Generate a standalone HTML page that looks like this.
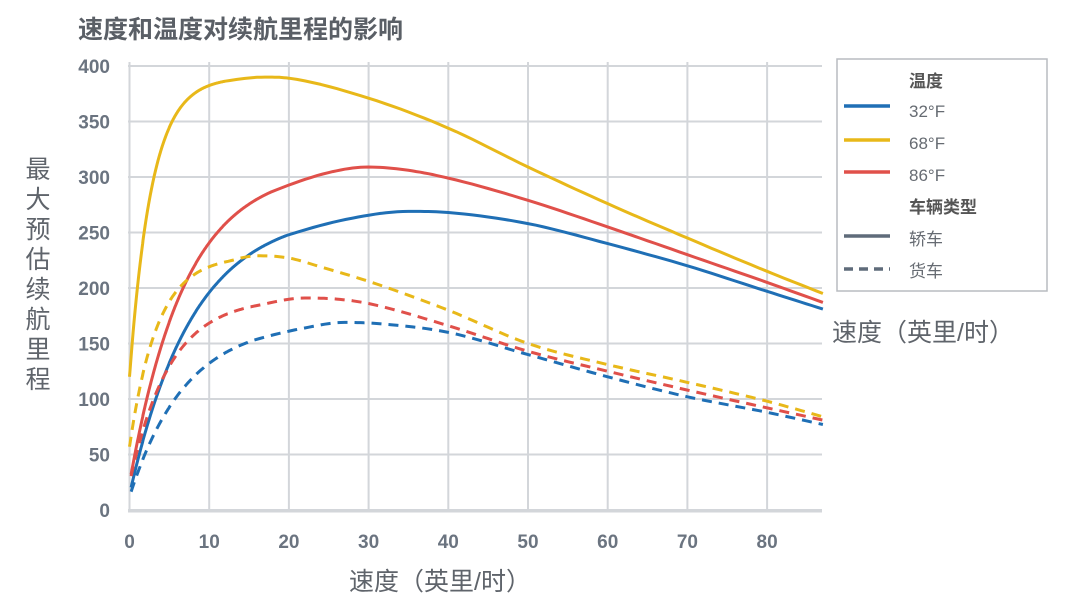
<!DOCTYPE html>
<html><head><meta charset="utf-8"><style>
body{margin:0;background:#fff;width:1080px;height:608px;overflow:hidden;font-family:"Liberation Sans","Noto Sans CJK SC",sans-serif}
</style></head><body>
<svg id="s" width="1080" height="608" xmlns="http://www.w3.org/2000/svg" font-family="Liberation Sans, Noto Sans CJK SC, sans-serif">
<text x="78" y="38" font-size="25" font-weight="bold" fill="#5a5f66">速度和温度对续航里程的影响</text>
<g id="grid" stroke="#d3d6da" stroke-width="2"></g>
<g id="ticks" fill="#6b7480" font-size="19" font-weight="bold"></g>
<g id="curves" fill="none" stroke-width="3"></g>
<g font-size="25" fill="#5f646b" text-anchor="middle">
<text x="38" y="178">最</text><text x="38" y="208">大</text><text x="38" y="238">预</text><text x="38" y="268">估</text><text x="38" y="298">续</text><text x="38" y="328">航</text><text x="38" y="358">里</text><text x="38" y="388">程</text>
</g>
<text x="349" y="590" font-size="25" fill="#5f646b">速度（英里/时）</text>
<text x="832" y="341" font-size="25" fill="#5f646b">速度（英里/时）</text>
<rect x="837" y="59" width="210" height="232" fill="#fff" stroke="#b8bcc0" stroke-width="1.5"/>
<g font-size="17" fill="#666b72">
<text x="909" y="87" font-weight="bold" fill="#555">温度</text>
<text x="909" y="117">32°F</text>
<text x="909" y="149">68°F</text>
<text x="909" y="181">86°F</text>
<text x="909" y="213" font-weight="bold" fill="#555">车辆类型</text>
<text x="909" y="245">轿车</text>
<text x="909" y="277">货车</text>
</g>
<g stroke-width="3.5">
<line x1="844" x2="890" y1="106" y2="106" stroke="#1f6fb5"/>
<line x1="844" x2="890" y1="140" y2="140" stroke="#e8b819"/>
<line x1="844" x2="890" y1="172" y2="172" stroke="#e0504a"/>
<line x1="844" x2="890" y1="236" y2="236" stroke="#5f6b7a"/>
<line x1="844" x2="890" y1="269" y2="269" stroke="#5f6b7a" stroke-dasharray="9 6"/>
</g>
</svg>
<script>
var X=function(v){return 129.5+v*7.97},Y=function(v){return 510-v*1.11};
var NS="http://www.w3.org/2000/svg";
function el(p,t,a,txt){var e=document.createElementNS(NS,t);for(var k in a)e.setAttribute(k,a[k]);if(txt!=null)e.textContent=txt;document.getElementById(p).appendChild(e);}
for(var i=0;i<=80;i+=10){el('grid','line',{x1:X(i),x2:X(i),y1:62,y2:511});el('ticks','text',{x:X(i),y:548,'text-anchor':'middle'},i);}
for(var j=0;j<=400;j+=50){el('grid','line',{x1:128,x2:822,y1:Y(j),y2:Y(j)});el('ticks','text',{x:110,y:Y(j)+7,'text-anchor':'end'},j);}
el('grid','line',{x1:128,x2:822,y1:511,y2:511,'stroke-width':3});
function rise(y0,A,k,x0,X0){var r=[];for(var x=x0;x<=X0+1e-9;x+=0.5)r.push([x,y0+A*(1-Math.exp(-x/k))]);return r;}
var S=[
['#e8b819',0,rise(120,270,2.8,0,12).concat([[17,390],[20,389],[30,371],[40,344],[50,309],[60,276],[70,245],[80,215],[87,195]])],
['#e0504a',0,rise(24,285,7,0.2,18).concat([[25,304],[30,309],[35,306],[40,299],[50,279],[60,255],[70,230],[80,205],[87,187]])],
['#1f6fb5',0,rise(14,255,8,0.2,20).concat([[28,263],[35,269],[40,268],[50,258],[60,240],[70,220],[80,197],[87,181]])],
['#e8b819',1,rise(57,172,3.5,0,12).concat([[16,229],[20,227],[24,219],[30,206],[40,180],[50,150],[60,131],[70,115],[80,98],[87,84]])],
['#e0504a',1,rise(24,167,5,0.2,16).concat([[22,191],[26,190],[30,186],[40,166],[50,143],[60,125],[70,108],[80,92],[87,81]])],
['#1f6fb5',1,rise(12,158,7,0.2,16).concat([[22,164],[27,169],[31,168],[40,160],[50,140],[60,120],[70,102],[80,88],[87,77]])]
];
function mono(pts){var n=pts.length,x=pts.map(p=>p[0]),y=pts.map(p=>p[1]),d=[],m=[];
for(var i=0;i<n-1;i++)d[i]=(y[i+1]-y[i])/(x[i+1]-x[i]);
m[0]=d[0];m[n-1]=d[n-2];for(i=1;i<n-1;i++)m[i]=(d[i-1]*d[i]<=0)?0:(d[i-1]+d[i])/2;
for(i=0;i<n-1;i++){if(d[i]==0){m[i]=m[i+1]=0;continue;}var a=m[i]/d[i],b=m[i+1]/d[i],s=a*a+b*b;if(s>9){var t=3/Math.sqrt(s);m[i]=t*a*d[i];m[i+1]=t*b*d[i];}}
var out=[];for(i=0;i<n-1;i++){var h=x[i+1]-x[i];for(var k=0;k<10;k++){var t=k/10,t2=t*t,t3=t2*t;
var v=(2*t3-3*t2+1)*y[i]+(t3-2*t2+t)*h*m[i]+(-2*t3+3*t2)*y[i+1]+(t3-t2)*h*m[i+1];out.push([x[i]+t*h,v]);}}
out.push(pts[n-1]);return out;}
S.forEach(function(s){var p=mono(s[2]);var d='M'+p.map(q=>X(q[0]).toFixed(1)+','+Y(q[1]).toFixed(1)).join(' L');
var o={d:d,stroke:s[0],'stroke-linejoin':'round'};if(s[1])o['stroke-dasharray']='10 7';el('curves','path',o);});
</script>
</body></html>
